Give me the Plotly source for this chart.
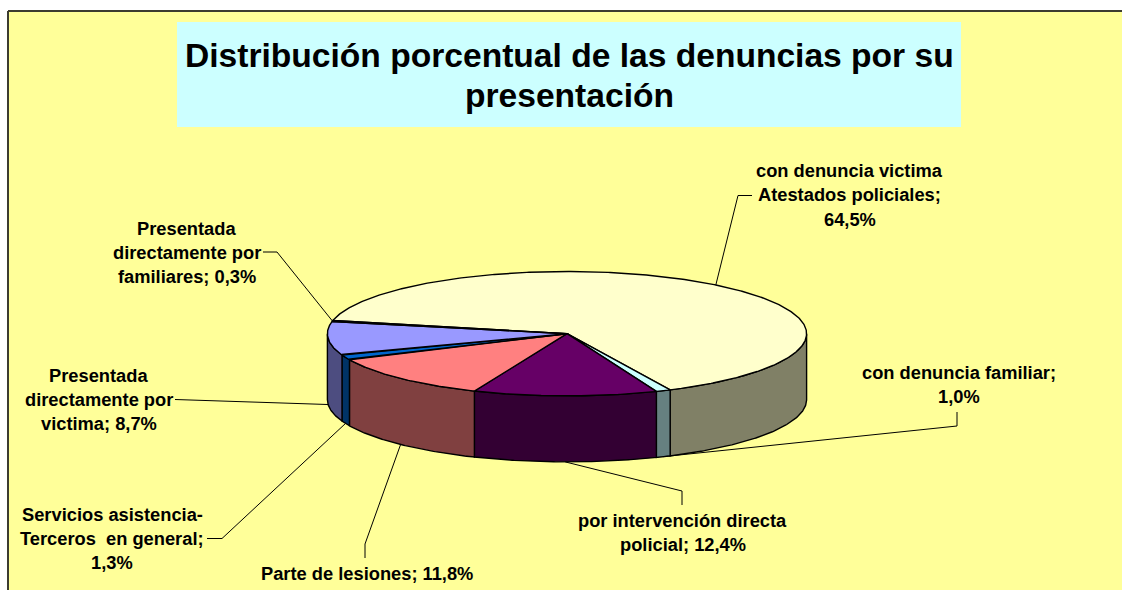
import math
import plotly.graph_objects as go

categories = ["con denuncia victima Atestados policiales", "con denuncia familiar",
              "por intervención directa policial", "Parte de lesiones",
              "Servicios asistencia-Terceros en general",
              "Presentada directamente por victima",
              "Presentada directamente por familiares"]
values = [64.5, 1.0, 12.4, 11.8, 1.3, 8.7, 0.3]
value_labels = ["64,5%", "1,0%", "12,4%", "11,8%", "1,3%", "8,7%", "0,3%"]
label_lines = [
    ["con denuncia victima", "Atestados policiales;", "64,5%"],
    ["con denuncia familiar;", "1,0%"],
    ["por intervención directa", "policial; 12,4%"],
    ["Parte de lesiones; 11,8%"],
    ["Servicios asistencia-", "Terceros  en general;", "1,3%"],
    ["Presentada", "directamente por", "victima; 8,7%"],
    ["Presentada", "directamente por", "familiares; 0,3%"],
]
title_lines = ["Distribución porcentual de las denuncias por su", "presentación"]

top_colors = ["#FFFFCC", "#CCFFFF", "#660066", "#FF8080", "#0066CC", "#9999FF", "#000080"]
side_colors = ["#808066", "#668080", "#330033", "#804040", "#003366", "#4D4D80", "#000040"]

# pie projection (pixels of the page)
CX, CY, RX, RY, DEPTH = 567.0, 333.7, 239.6, 62.2, 66.0
START = 282.3
# style/layout of labels: centre x, first line centre y, line step
label_pos = [(849.5, 170, 24.5), (958.5, 372, 24.5), (682.5, 520, 24), (367, 573, 24),
             (112, 514.5, 24), (98.5, 375, 24), (186.5, 228.5, 24)]
# leader elbows
elbows = [[(738, 195.5), (752, 195.5)], [(957, 426), (957, 412)], [(682, 491), (682, 505)],
          [(365, 544), (365, 558)], [(222, 538.5), (207, 538.5)], [(187, 399.5), (175, 399.5)],
          [(277, 252), (263, 252)]]
LABEL_SIZE = 18.3
TITLE_SIZE = 33.6


def pt(a, dy=0.0):
    r = math.radians(a)
    return CX + RX * math.sin(r), CY - RY * math.cos(r) + dy


def arc(a0, a1, dy=0.0):
    n = max(2, int(abs(a1 - a0) * 2))
    return [pt(a0 + (a1 - a0) * i / n, dy) for i in range(n + 1)]


total = sum(values)
angles = []
a = START
for v in values:
    b = a + v / total * 360
    angles.append((a, b))
    a = b

fig = go.Figure()


def poly(points, fill):
    xs = [p[0] for p in points] + [points[0][0]]
    ys = [p[1] for p in points] + [points[0][1]]
    fig.add_trace(go.Scatter(x=xs, y=ys, mode="lines", fill="toself", fillcolor=fill,
                             line=dict(color="#000000", width=1.4), hoverinfo="skip",
                             showlegend=False))


# visible wall: rim between 90 and 270 degrees
for (a0, a1), col in zip(angles, side_colors):
    for k in (-360, 0, 360):
        lo, hi = max(a0 + k, 90), min(a1 + k, 270)
        if lo < hi:
            poly(arc(lo, hi) + arc(hi, lo, DEPTH), col)

# top face
for (a0, a1), col in zip(angles, top_colors):
    poly([(CX, CY)] + arc(a0, a1), col)

# leader lines
for (a0, a1), chain in zip(angles, elbows):
    mid = ((a0 + a1) / 2) % 360
    start = pt(mid, DEPTH if 90 < mid < 275 else 0)
    pts = [start] + chain
    fig.add_trace(go.Scatter(x=[p[0] for p in pts], y=[p[1] for p in pts], mode="lines",
                             line=dict(color="#000000", width=1), hoverinfo="skip",
                             showlegend=False))

anns = []
for lines, (x, y, step) in zip(label_lines, label_pos):
    for i, t in enumerate(lines):
        anns.append(dict(x=x, y=y + i * step, text="<b>" + t + "</b>", showarrow=False,
                         xanchor="center", yanchor="middle",
                         font=dict(family="Liberation Sans", size=LABEL_SIZE, color="#000000")))
for t, y in zip(title_lines, (55, 95)):
    anns.append(dict(x=569, y=y, text="<b>" + t + "</b>", showarrow=False, xanchor="center",
                     yanchor="middle", font=dict(family="Liberation Sans", size=TITLE_SIZE,
                                                 color="#000000")))

shapes = [
    dict(type="rect", x0=7, y0=11, x1=1122, y1=590, fillcolor="#FFFF99", line=dict(width=0), layer="below"),
    dict(type="rect", x0=177, y0=22, x1=961, y1=127, fillcolor="#CCFFFF", line=dict(width=0), layer="below"),
    dict(type="line", x0=8, y0=11, x1=1122, y1=11, line=dict(color="#3C3C30", width=2), layer="below"),
    dict(type="line", x0=8, y0=11, x1=8, y1=590, line=dict(color="#3C3C30", width=2), layer="below"),
]

fig.update_layout(
    width=1122, height=590, autosize=False,
    margin=dict(l=0, r=0, t=0, b=0),
    paper_bgcolor="#FFFFFF", plot_bgcolor="rgba(0,0,0,0)",
    xaxis=dict(range=[0, 1122], visible=False, fixedrange=True),
    yaxis=dict(range=[590, 0], visible=False, fixedrange=True),
    shapes=shapes, annotations=anns, showlegend=False,
)
fig.write_html("out.html", config={"displayModeBar": False},
               post_script="document.body.style.margin='0';document.body.style.overflow='hidden';")
